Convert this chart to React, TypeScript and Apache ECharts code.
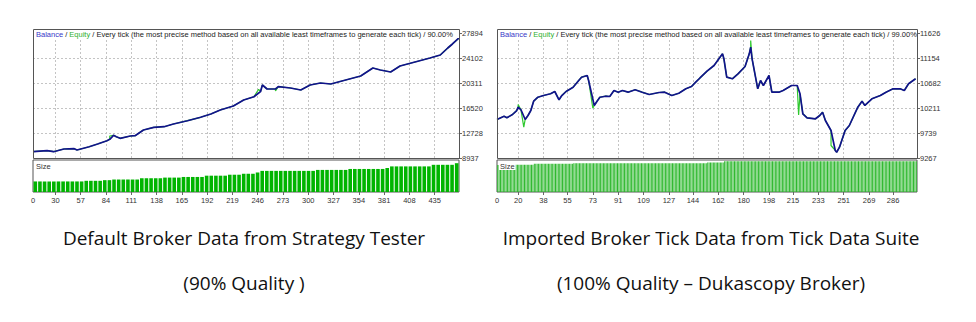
import React, { useEffect, useRef } from 'react';
import * as echarts from 'echarts';

// ---------- data ----------
// [trade number, balance]
const leftBalance: [number, number][] = [
  [6, 9892], [21, 10044], [28, 9892], [39, 10301], [50, 10347], [53, 10150], [66, 10650], [75, 11060],
  [85, 11560], [88, 11773], [92, 12379], [95, 12167], [99, 11924], [110, 12273], [115, 12318], [124, 13183],
  [135, 13592], [146, 13683], [156, 14093], [171, 14593], [185, 15109], [196, 15610], [206, 16216], [220, 16823],
  [231, 17733], [242, 18233], [249, 18992], [251, 20008], [256, 19401], [265, 19401], [268, 19750], [281, 19553],
  [292, 19249], [302, 20008], [313, 20311], [324, 20159], [340, 20766], [356, 21373], [369, 22586], [377, 22283],
  [388, 21979], [398, 22889], [414, 23496], [430, 24102], [441, 24557], [449, 25619], [454, 26226], [461, 27136],
];
// equity excursions away from the balance line
const leftEquitySpikes: [number, number][] = [
  [88, 12273], [247, 19355], [265, 19098],
];

const rightBalance: [number, number][] = [
  [5, 9994], [10, 10056], [12, 10026], [16, 10088], [19, 10163], [20, 10226], [22, 10177], [25, 9994],
  [27, 10069], [29, 10163], [31, 10339], [34, 10414], [38, 10446], [43, 10479], [46, 10522], [49, 10365],
  [51, 10446], [54, 10522], [59, 10603], [63, 10730], [65, 10792], [69, 10824], [70, 10730], [74, 10258],
  [76, 10339], [78, 10414], [82, 10433], [85, 10428], [88, 10541], [91, 10509], [94, 10541], [98, 10509],
  [103, 10554], [108, 10509], [113, 10465], [120, 10503], [124, 10509], [129, 10446], [134, 10490], [139, 10573],
  [143, 10616], [146, 10698], [149, 10777], [154, 10905], [159, 11013], [165, 11233], [166, 11139], [168, 10792],
  [172, 10762], [176, 10856], [181, 10994], [184, 11233], [185, 11358], [186, 11139], [188, 10856], [190, 10573],
  [192, 10730], [194, 10635], [198, 10824], [200, 10509], [205, 10509], [208, 10541], [214, 10635], [218, 10635],
  [220, 10479], [222, 10101], [225, 10026], [231, 10007], [234, 10069], [236, 10131], [238, 9975], [242, 9786],
  [245, 9409], [246, 9376], [248, 9471], [252, 9786], [255, 9880], [261, 10226], [264, 10339], [266, 10258],
  [271, 10384], [277, 10446], [281, 10509], [286, 10573], [291, 10573], [294, 10541], [297, 10667], [302, 10762],
];
const rightEquitySpikes: [number, number][] = [
  [20, 10276], [24, 9848], [73, 10207], [185, 11484], [219, 10080], [242, 9503],
];

// position sizes (one bar per group of trades)
const leftSize: number[] = [
  33, 33, 33, 33, 33, 33, 33, 33, 33, 33,
  33, 35, 35, 35, 35, 37, 37, 39, 39, 39,
  39, 39, 39, 43, 43, 43, 43, 43, 45, 45,
  45, 45, 47, 47, 47, 47, 47, 51, 51, 51,
  51, 51, 54, 54, 54, 57, 57, 57, 61, 66,
  66, 66, 66, 66, 66, 66, 66, 66, 66, 66,
  66, 69, 69, 69, 69, 69, 69, 69, 72, 72,
  72, 72, 72, 72, 72, 72, 75, 80, 80, 80,
  80, 80, 80, 80, 80, 80, 85, 85, 85, 85,
  85, 90,
];
const rightSize: number[] = [
  84, 84, 84, 84, 84, 84, 84, 84, 84, 84,
  84, 84,
  85, 85, 85, 85, 85, 85, 85, 85, 85, 85,
  85, 85, 85, 85,
  88, 88, 88, 88, 88, 88, 88, 88, 88, 88,
  88, 88, 88, 88, 88, 88, 88, 88, 88, 88,
  88, 88, 88, 88, 88, 88, 88, 88,
  90, 90, 90, 90, 90, 90, 90, 90, 90, 90,
  90, 90, 90, 90, 90, 90, 90, 90, 90, 90,
  90, 90, 90, 90, 90, 90, 90, 90, 90, 90,
  90, 90, 90, 90, 90, 90, 90, 90, 90, 90,
  90, 90, 90, 90, 90, 90, 90, 90, 90, 90,
  90, 90, 90, 90, 90, 90, 90, 90, 90, 90,
  90, 90, 90, 90, 90, 90, 90, 90, 90, 90,
  90, 90, 90, 90, 90, 90, 90, 90, 90, 90,
  90, 90, 90, 90, 90, 90, 90, 90, 90, 90,
  90, 90, 90, 90, 90,
  92, 92, 92, 92, 92, 92, 92, 92, 92, 92,
  92, 92,
  96, 96, 96, 96, 96, 96, 96, 96, 96, 96,
  96, 96, 96, 96, 96, 96, 96, 96, 96, 96,
  96, 96, 96, 96, 96, 96, 96, 96, 96, 96,
  96, 96, 96, 96, 96, 96, 96, 96, 96, 96,
  96, 96, 96, 96, 96, 96, 96, 96, 96, 96,
  96, 96, 96, 96, 96, 96, 96, 96, 96, 96,
  96, 96, 96, 96, 96, 96, 96, 96, 96, 96,
  96, 96, 96, 96, 96, 96, 96, 96, 96, 96,
  96, 96, 96, 96, 96, 96, 96, 96, 96, 96,
  96, 96, 96, 96, 96, 96, 96, 96, 96, 96,
  96, 96, 96, 96, 96, 96, 96, 96, 96, 96,
  96, 96, 96, 96, 96, 96, 96, 96, 96, 96,
  96, 96, 96, 96, 96, 96, 96, 96, 96, 96,
  96, 96, 96, 96, 96, 96, 96,
];

const leftXTicks = [30, 57, 84, 111, 138, 165, 192, 219, 246, 273, 300, 327, 354, 381, 408, 435];
const rightXTicks = [20, 38, 55, 73, 91, 109, 127, 144, 162, 180, 198, 215, 233, 251, 269, 286];
const leftXRange = [6, 461];
const rightXRange = [5, 303];
const leftYRange = [8937, 27893.6];
const rightYRange = [9267, 11626];

const leftQuality = '90.00%';
const rightQuality = '99.00%';
const headerMethod = 'Every tick (the most precise method based on all available least timeframes to generate each tick)';
const captions = [
  ['Default Broker Data from Strategy Tester', '(90% Quality )'],
  ['Imported Broker Tick Data from Tick Data Suite', '(100% Quality \u2013 Dukascopy Broker)'],
];

// ---------- layout ----------
const FRAME_TOP = 29;
const PLOT_TOP = 33;
const PLOT_BOTTOM = 158;
const SIZE_TOP = 160;
const SIZE_BOTTOM = 192;
const panels = [
  { left: 33, right: 459, capX: 244 },
  { left: 497, right: 917, capX: 711 },
];
const FONT = '"Liberation Sans", Arial, sans-serif';
const CAP_FONT = '"Open Sans", Lato, sans-serif';
const FRAME = '#555555';
const HEAD_SIZE = 7.5;

function withSpikes(base: [number, number][], spikes: [number, number][]) {
  return [...base, ...spikes].sort((a, b) => a[0] - b[0]);
}

function buildOption() {
  const sets = [
    { bal: leftBalance, eq: withSpikes(leftBalance, leftEquitySpikes), size: leftSize, xt: leftXTicks, xr: leftXRange, yr: leftYRange, barColor: '#00b400', gap: '22%', q: leftQuality },
    { bal: rightBalance, eq: withSpikes(rightBalance, rightEquitySpikes), size: rightSize, xt: rightXTicks, xr: rightXRange, yr: rightYRange, barColor: '#2db82d', gap: '30%', q: rightQuality },
  ];
  const grid: any[] = [];
  const xAxis: any[] = [];
  const yAxis: any[] = [];
  const series: any[] = [];
  const graphic: any[] = [];

  sets.forEach((s, i) => {
    const p = panels[i];
    const w = p.right - p.left;
    const gMain = grid.length;
    grid.push({ left: p.left, top: PLOT_TOP, width: w, height: PLOT_BOTTOM - PLOT_TOP });
    const gSize = grid.length;
    grid.push({ left: p.left, top: SIZE_TOP, width: w, height: SIZE_BOTTOM - SIZE_TOP, show: true, borderColor: FRAME, borderWidth: 1, backgroundColor: 'transparent' });

    const xMain = xAxis.length;
    xAxis.push({ gridIndex: gMain, type: 'value', min: s.xr[0], max: s.xr[1], show: false });
    const xCat = xAxis.length;
    xAxis.push({ gridIndex: gSize, type: 'category', position: 'bottom', data: s.size.map((_, k) => k), show: false, boundaryGap: true });
    xAxis.push({
      gridIndex: gSize, type: 'value', position: 'bottom', min: s.xr[0], max: s.xr[1],
      axisLine: { show: false },
      axisTick: { show: true, length: 3, customValues: s.xt, lineStyle: { color: '#666' } },
      axisLabel: {
        customValues: [s.xr[0], ...s.xt], fontSize: 7.5, fontFamily: FONT, color: '#333', margin: 4,
        formatter: (v: number) => (v === s.xr[0] ? '0' : String(v)),
      },
      splitLine: { show: false },
    });

    const yMain = yAxis.length;
    yAxis.push({
      gridIndex: gMain, type: 'value', position: 'right', min: s.yr[0], max: s.yr[1], interval: (s.yr[1] - s.yr[0]) / 5,
      axisLine: { show: false },
      axisTick: { show: true, length: 3, lineStyle: { color: '#666' } },
      axisLabel: { fontSize: 7.5, fontFamily: FONT, color: '#333', margin: 3, formatter: (v: number) => String(Math.round(v)) },
      splitLine: { show: true, showMinLine: false, showMaxLine: false, lineStyle: { color: '#c4c4c4', type: [2, 2], width: 1 } },
    });
    const ySize = yAxis.length;
    yAxis.push({ gridIndex: gSize, type: 'value', min: 0, max: 100, show: false });

    series.push({
      type: 'line', xAxisIndex: xMain, yAxisIndex: yMain, data: s.eq, showSymbol: false, z: 2,
      lineStyle: { color: '#2ec82e', width: 1.2 }, itemStyle: { color: '#2ec82e' },
      markLine: {
        silent: true, symbol: 'none', label: { show: false },
        lineStyle: { color: '#c4c4c4', type: [2, 2], width: 1 },
        emphasis: { disabled: true },
        data: s.xt.map((v) => ({ xAxis: v })),
        z: 1,
      },
    });
    series.push({
      type: 'line', xAxisIndex: xMain, yAxisIndex: yMain, data: s.bal, showSymbol: false, z: 3,
      lineStyle: { color: '#12128c', width: 1.7 }, itemStyle: { color: '#12128c' },
    });
    series.push({
      type: 'bar', xAxisIndex: xCat, yAxisIndex: ySize, data: s.size, barCategoryGap: s.gap,
      itemStyle: { color: s.barColor },
    });

    graphic.push({
      type: 'rect', z: 50, silent: true,
      shape: { x: p.left + 0.5, y: FRAME_TOP + 0.5, width: w, height: PLOT_BOTTOM - FRAME_TOP },
      style: { fill: 'none', stroke: FRAME, lineWidth: 1 },
    });
    // white strip behind the header line, inside the frame
    graphic.push({
      type: 'rect', z: 55, silent: true,
      shape: { x: p.left + 1, y: FRAME_TOP + 1, width: w - 1, height: PLOT_TOP - FRAME_TOP + 4 },
      style: { fill: '#fff' },
    });
    graphic.push({
      type: 'text', z: 60, silent: true, x: p.left + 3, y: FRAME_TOP + 1.5,
      style: {
        text: `{b|Balance} / {e|Equity} / ${headerMethod} / ${s.q}`,
        fontSize: HEAD_SIZE, fontFamily: FONT, fill: '#222',
        rich: { b: { fill: '#3838c8', fontSize: HEAD_SIZE, fontFamily: FONT }, e: { fill: '#30b030', fontSize: HEAD_SIZE, fontFamily: FONT } },
      },
    });
    graphic.push({
      type: 'text', z: 60, silent: true, x: p.left + 2, y: SIZE_TOP + 2,
      style: { text: 'Size', fontSize: 7.5, fontFamily: FONT, fill: '#333', backgroundColor: '#fff', padding: [0, 1, 0, 1] },
    });
    graphic.push({
      type: 'text', z: 60, silent: true, x: p.capX, y: 238,
      style: { text: captions[i][0], fontSize: 19, fontFamily: CAP_FONT, fill: '#111', align: 'center', verticalAlign: 'middle' },
    });
    graphic.push({
      type: 'text', z: 60, silent: true, x: p.capX, y: 283,
      style: { text: captions[i][1], fontSize: 19, fontFamily: CAP_FONT, fill: '#111', align: 'center', verticalAlign: 'middle' },
    });
  });

  return {
    animation: false,
    backgroundColor: '#ffffff',
    textStyle: { fontFamily: FONT },
    grid, xAxis, yAxis, series, graphic,
  };
}

export default function App() {
  const ref = useRef<HTMLDivElement>(null);
  useEffect(() => {
    if (!ref.current) return;
    const chart = echarts.init(ref.current, null, { renderer: 'svg' });
    chart.setOption(buildOption() as any);
    return () => chart.dispose();
  }, []);
  return (
    <div
      ref={ref}
      style={{ position: 'absolute', left: 0, top: 0, width: 976, height: 322, background: '#fff' }}
    />
  );
}
